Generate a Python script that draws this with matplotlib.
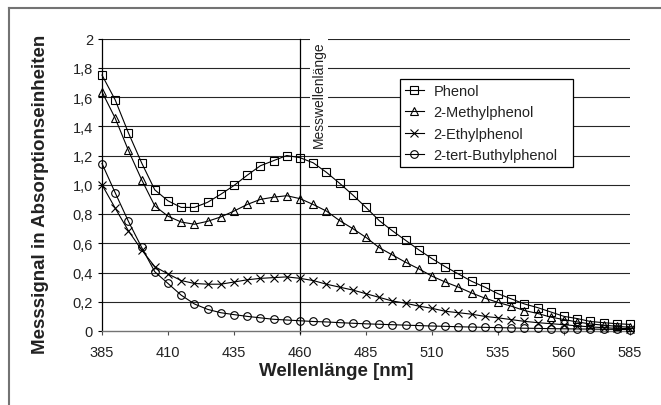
import numpy as np
import matplotlib
matplotlib.use("Agg")
import matplotlib.pyplot as plt
from matplotlib.lines import Line2D

plt.rcParams["font.family"] = ["Liberation Sans", "DejaVu Sans"]

# wavelengths in nm, one reading every 5 nm
wavelengths = np.arange(385, 586, 5)

phenol = [1.75, 1.58, 1.355, 1.15, 0.965, 0.89, 0.845, 0.845, 0.88, 0.935,
          0.995, 1.065, 1.13, 1.165, 1.20, 1.185, 1.15, 1.085, 1.01, 0.93,
          0.845, 0.755, 0.685, 0.62, 0.555, 0.495, 0.44, 0.39, 0.34, 0.30,
          0.255, 0.22, 0.185, 0.16, 0.13, 0.10, 0.085, 0.065, 0.057, 0.05,
          0.045]
methylphenol = [1.635, 1.455, 1.235, 1.035, 0.855, 0.785, 0.745, 0.73, 0.75, 0.78,
                0.82, 0.865, 0.90, 0.915, 0.925, 0.905, 0.865, 0.82, 0.755, 0.70,
                0.64, 0.57, 0.52, 0.47, 0.425, 0.375, 0.335, 0.30, 0.26, 0.225,
                0.195, 0.17, 0.14, 0.12, 0.095, 0.078, 0.062, 0.048, 0.04, 0.032,
                0.025]
ethylphenol = [1.0, 0.84, 0.685, 0.555, 0.44, 0.39, 0.345, 0.325, 0.32, 0.32,
               0.335, 0.35, 0.36, 0.365, 0.37, 0.36, 0.345, 0.32, 0.30, 0.28,
               0.255, 0.23, 0.205, 0.19, 0.17, 0.155, 0.135, 0.125, 0.115, 0.10,
               0.09, 0.078, 0.066, 0.057, 0.05, 0.043, 0.035, 0.028, 0.023, 0.018,
               0.016]
butylphenol = [1.145, 0.945, 0.75, 0.572, 0.405, 0.325, 0.245, 0.185, 0.148, 0.125,
               0.112, 0.10, 0.09, 0.08, 0.075, 0.07, 0.065, 0.062, 0.057, 0.053,
               0.049, 0.046, 0.043, 0.04, 0.037, 0.034, 0.032, 0.029, 0.027, 0.025,
               0.023, 0.021, 0.019, 0.018, 0.016, 0.015, 0.014, 0.013, 0.012, 0.011,
               0.01]

series_names = ["Phenol", "2-Methylphenol", "2-Ethylphenol", "2-tert-Buthylphenol"]
series_markers = ["s", "^", "x", "o"]

x_ticks = [385, 410, 435, 460, 485, 510, 535, 560, 585]
y_ticks = [0, 0.2, 0.4, 0.6, 0.8, 1.0, 1.2, 1.4, 1.6, 1.8, 2.0]
y_tick_labels = ["0", "0,2", "0,4", "0,6", "0,8", "1,0", "1,2", "1,4", "1,6", "1,8", "2"]
measure_wavelength = 460

fig = plt.figure(figsize=(6.61, 4.06), dpi=100)
ax = fig.add_axes([102 / 661, 1 - 332 / 406, 528 / 661, 292.5 / 406])

# grid
for y in y_ticks[1:]:
    ax.axhline(y, color="0.15", lw=0.8, zorder=1)

ax.axvline(measure_wavelength, ymin=-0.008, ymax=1, color="black", lw=0.9,
           zorder=2, clip_on=False)
ax.text(467.2, 1.985, "Messwellenlänge", rotation=90, ha="center", va="top",
        fontsize=10, color="#222222", zorder=3,
        bbox=dict(facecolor="white", edgecolor="none", pad=1.5))

all_series = [phenol, methylphenol, ethylphenol, butylphenol]
for values, name, marker in zip(all_series, series_names, series_markers):
    ax.plot(wavelengths, values, color="black", lw=0.8, marker=marker,
            markersize=5.5 if marker != "^" else 6, markerfacecolor="none",
            markeredgecolor="black", markeredgewidth=0.8, label=name,
            clip_on=False, zorder=4)

ax.set_xlim(385, 585)
ax.set_ylim(0, 2)
ax.set_xticks(x_ticks)
ax.set_xticklabels([str(v) for v in x_ticks])
ax.set_yticks(y_ticks)
ax.set_yticklabels(y_tick_labels)

for side in ["top", "right"]:
    ax.spines[side].set_visible(False)
ax.spines["left"].set_color("black")
ax.spines["left"].set_linewidth(0.9)
ax.spines["bottom"].set_color("0.45")
ax.spines["bottom"].set_linewidth(1.0)

ax.tick_params(axis="x", direction="out", length=3, width=0.8, pad=7,
               labelsize=10.5, labelcolor="#222222", color="0.3")
ax.tick_params(axis="y", direction="out", length=3, width=0.8, pad=3.5,
               labelsize=10.5, labelcolor="#222222")

ax.set_xlabel("Wellenlänge [nm]", fontsize=13.5, fontweight="bold", color="#222222")
ax.set_ylabel("Messsignal in Absorptionseinheiten", fontsize=13.5,
              fontweight="bold", color="#222222")
ax.xaxis.set_label_coords(0.444, -0.105)
ax.yaxis.set_label_coords(-0.1, 0.47)

leg = ax.legend(loc="upper left", bbox_to_anchor=(0.564, 0.8615, 0.328, 0.0),
                mode="expand", fontsize=10.5, frameon=True, fancybox=False,
                edgecolor="black", framealpha=1, borderpad=0.35,
                labelspacing=0.5, handlelength=1.3, handletextpad=0.65,
                borderaxespad=0)
leg.get_frame().set_linewidth(0.9)
leg.set_zorder(5)
for text in leg.get_texts():
    text.set_color("#222222")

# partial chart-area border, left and top edges
fig.add_artist(Line2D([8.5 / 661, 8.5 / 661], [0, 1 - 9 / 406],
                      transform=fig.transFigure, color="0.45", lw=1.5))
fig.add_artist(Line2D([8.5 / 661, 1], [1 - 9 / 406, 1 - 9 / 406],
                      transform=fig.transFigure, color="0.45", lw=1.5))

fig.savefig("out.png", dpi=100)
